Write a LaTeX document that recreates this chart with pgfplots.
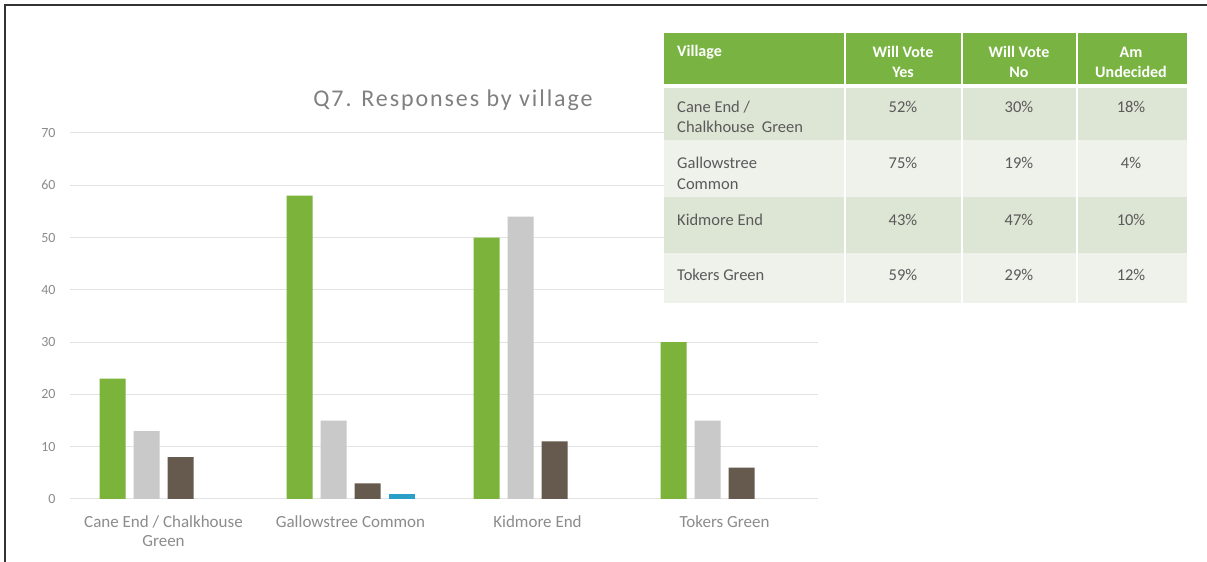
\documentclass[border=0pt]{standalone}
\usepackage{fontspec}
\setmainfont{Carlito}
\newfontfamily\titlefont[LetterSpace=8]{Carlito}
\usepackage{pgfplots}
\pgfplotsset{compat=1.18}
\definecolor{cgreen}{HTML}{7CB33B}
\definecolor{cgray}{HTML}{C9C9C9}
\definecolor{cbrown}{HTML}{665A4E}
\definecolor{cblue}{HTML}{2A9FC8}
\definecolor{hgreen}{HTML}{79B443}
\definecolor{rowA}{HTML}{DDE5D4}
\definecolor{rowB}{HTML}{EEF2EA}
\definecolor{txt}{HTML}{8C8C8C}
\definecolor{ttxt}{HTML}{5A5A5A}
\definecolor{gridc}{HTML}{E3E3E3}
\begin{document}
\begin{tikzpicture}[x=1bp,y=1bp]
\path[use as bounding box] (0,0) rectangle (1207,562);
\fill[white] (0,0) rectangle (1207,562);
\draw[line width=1.5bp, color=black!80] (5,0) -- (5,557) -- (1207,557);
\begin{axis}[
  at={(70bp,63bp)}, anchor=south west,
  scale only axis, width=748bp, height=366bp,
  xmin=-0.5, xmax=3.5, ymin=0, ymax=70,
  ytick={0,10,...,70},
  xtick={0,1,2,3},
  xticklabels={{Cane End / Chalkhouse\\Green},{Gallowstree Common},{Kidmore End},{Tokers Green}},
  axis line style={draw=none},
  major tick length=0pt,
  ymajorgrids, grid style={color=gridc, line width=1bp},
  /pgf/number format/assume math mode=true,
  yticklabel style={font=\fontsize{14bp}{16bp}\selectfont, text=txt, xshift=-11bp},
  xticklabel style={font=\fontsize{17bp}{19bp}\selectfont, text=txt, align=center, yshift=-13bp},
  ybar=8bp, bar width=26bp,
  clip=false,
]
\addplot[draw=none, fill=cgreen] coordinates {(0,23) (1,58) (2,50) (3,30)};
\addplot[draw=none, fill=cgray] coordinates {(0,13) (1,15) (2,54) (3,15)};
\addplot[draw=none, fill=cbrown] coordinates {(0,8) (1,3) (2,11) (3,6)};
\addplot[draw=none, fill=cblue] coordinates {(1,1)};
\end{axis}
% title
\node[font=\titlefont\fontsize{24bp}{28bp}\selectfont, text=black!50] at (453,462) {Q7. Responses by village};
% table
\fill[hgreen] (664,478) rectangle (1187,529);
\fill[rowA] (664,422) rectangle (1187,474);
\fill[rowB] (664,365) rectangle (1187,422);
\fill[rowA] (664,309) rectangle (1187,365);
\fill[rowB] (664,259) rectangle (1187,309);
\foreach \xx in {845,962,1077} {\draw[white, line width=1.5bp] (\xx,259) -- (\xx,529);}
\begin{scope}[every node/.style={font=\bfseries\fontsize{16bp}{18bp}\selectfont, text=white, inner sep=0pt}]
\node[anchor=west] at (677,510) {Village};
\node at (903,510) {Will Vote}; \node at (903,490) {Yes};
\node at (1019,510) {Will Vote}; \node at (1019,490) {No};
\node at (1131,510) {Am}; \node at (1131,490) {Undecided};
\end{scope}
\begin{scope}[every node/.style={font=\fontsize{16.5bp}{19bp}\selectfont, text=ttxt, inner sep=0pt}]
\node[anchor=west] at (677,455) {Cane End /};
\node[anchor=west] at (677,435) {Chalkhouse\ \ Green};
\node at (903,455) {52\%}; \node at (1019,455) {30\%}; \node at (1131,455) {18\%};
\node[anchor=west] at (677,399) {Gallowstree};
\node[anchor=west] at (677,378) {Common};
\node at (903,399) {75\%}; \node at (1019,399) {19\%}; \node at (1131,399) {4\%};
\node[anchor=west] at (677,342) {Kidmore End};
\node at (903,342) {43\%}; \node at (1019,342) {47\%}; \node at (1131,342) {10\%};
\node[anchor=west] at (677,287) {Tokers Green};
\node at (903,287) {59\%}; \node at (1019,287) {29\%}; \node at (1131,287) {12\%};
\end{scope}
\end{tikzpicture}
\end{document}
